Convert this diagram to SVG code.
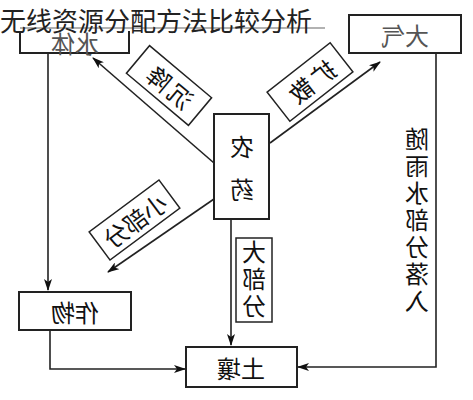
<svg xmlns="http://www.w3.org/2000/svg" width="473" height="400" viewBox="0 0 473 400">
<defs>
<marker id="ah" viewBox="0 0 12 8" refX="11" refY="4" markerWidth="12" markerHeight="8" markerUnits="userSpaceOnUse" orient="auto">
<path d="M0,0 L12,4 L0,8 L3,4 z" fill="#111"/>
</marker>
<style>
.box{fill:#fff;stroke:#222;stroke-width:2}
.lbl{fill:#fff;stroke:#222;stroke-width:1.5}
.t{font-family:"Noto Sans CJK SC","Noto Sans CJK JP",sans-serif;font-size:24px;fill:#111;text-anchor:middle;dominant-baseline:central}
.g{fill:#555}
.v{writing-mode:vertical-rl}
.c{fill:none;stroke:#222;stroke-width:1.6}
</style>
</defs>
<rect width="473" height="400" fill="#fff"/>
<g id="conn">
<path class="c" d="M214,163 L93,58" marker-end="url(#ah)"/>
<path class="c" d="M270,143 L380,62" marker-end="url(#ah)"/>
<path class="c" d="M214,199 L108,272" marker-end="url(#ah)"/>
<path class="c" d="M231,219 L231,345" marker-end="url(#ah)"/>
<path class="c" d="M48,53 L48,290" marker-end="url(#ah)"/>
<path class="c" d="M50,330 L50,369 L185,369" marker-end="url(#ah)"/>
<path class="c" d="M436,53 L436,367 L298,367" marker-end="url(#ah)"/>
</g>
<g id="shuiti">
<rect class="box" x="20" y="15" width="109" height="38"/>
<text class="t g" transform="translate(75,42) scale(-1,1)" font-size="20">水体</text>
</g>
<g id="daqi">
<rect class="box" x="349" y="15" width="112" height="38"/>
<text class="t g" transform="translate(405,34) scale(-1,1)">大气</text>
</g>
<g id="nongyao">
<rect class="box" x="214" y="114" width="55" height="105"/>
<text class="t" transform="translate(242,145) scale(-1,1)">农</text>
<text class="t" transform="translate(242,188) scale(-1,1)">药</text>
</g>
<g id="zuowu">
<rect class="box" x="19" y="292" width="112" height="38"/>
<text class="t" transform="translate(75,311) scale(-1,1)">作物</text>
</g>
<g id="turang">
<rect class="box" x="186" y="347" width="111" height="40"/>
<text class="t" transform="translate(241,367) scale(-1,1)">土壤</text>
</g>
<g id="chenjiang">
<g transform="translate(169,85.5) scale(-1,1) rotate(-40)">
<rect class="lbl" x="-40.5" y="-18" width="81" height="36"/>
<text class="t" x="0" y="0" letter-spacing="4">沉降</text>
</g>
</g>
<g id="kuosan">
<g transform="translate(310,82) scale(-1,1) rotate(38)">
<rect class="lbl" x="-40" y="-18.5" width="80" height="37"/>
<text class="t" x="0" y="0" letter-spacing="4">扩散</text>
</g>
</g>
<g id="xiaobufen">
<g transform="translate(134.5,220) scale(-1,1) rotate(36.6)">
<rect class="lbl" x="-43.5" y="-17.5" width="87" height="35"/>
<text class="t" x="0" y="0" font-size="22">小部分</text>
</g>
</g>
<g id="dabufen">
<rect class="lbl" x="236" y="238" width="36" height="84"/>
<text class="t v" transform="translate(254,280) scale(-1,1)" font-size="22" letter-spacing="3">大部分</text>
</g>
<g id="suiyushui">
<text class="t v" transform="translate(417,221) scale(-1,1)" font-size="24" letter-spacing="3">随雨水部分落入</text>
</g>
<g id="title">
<rect x="0" y="0" width="312" height="31" fill="#fff"/>
<line x1="20" y1="28" x2="325" y2="28" stroke="#999" stroke-width="1.5"/>
<text x="0" y="31" font-family="'Noto Sans CJK SC',sans-serif" font-size="26" fill="#222">无线资源分配方法比较分析</text>
</g>
</svg>
